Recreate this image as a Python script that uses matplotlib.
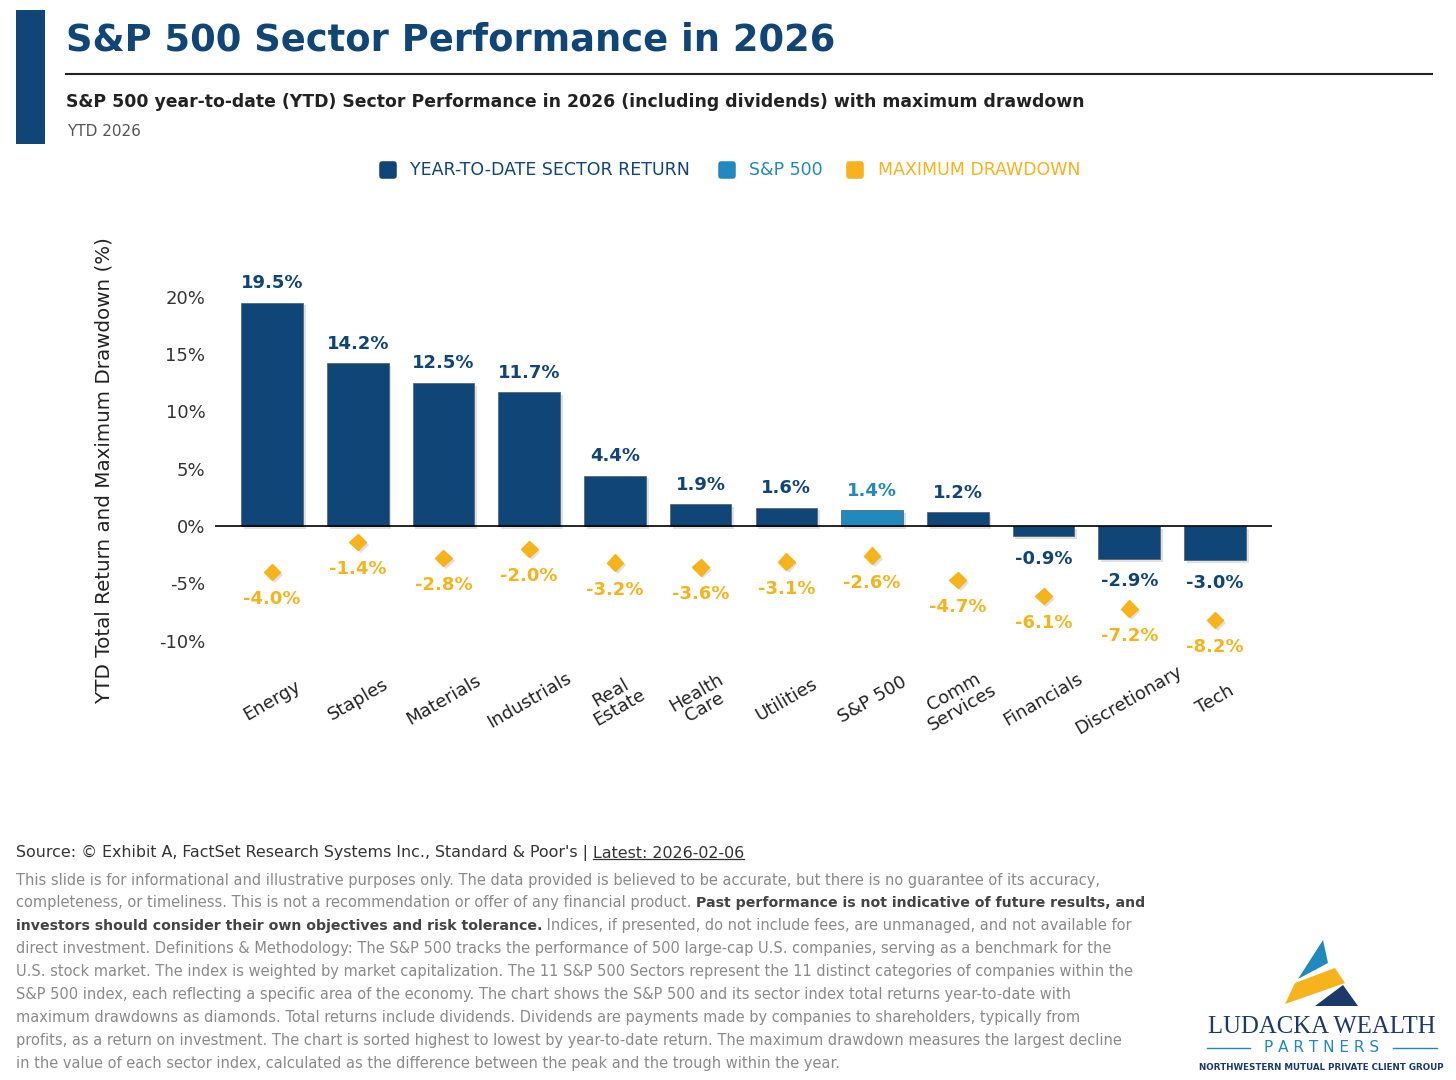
import matplotlib
matplotlib.use("Agg")
import matplotlib.pyplot as plt
import matplotlib.patheffects as pe
from matplotlib.patches import Rectangle, Polygon
from matplotlib.lines import Line2D
from matplotlib.markers import MarkerStyle

W, H = 1456, 1080

# chart data
sectors = ["Energy", "Staples", "Materials", "Industrials", "Real\nEstate", "Health\nCare",
           "Utilities", "S&P 500", "Comm\nServices", "Financials", "Discretionary", "Tech"]
ytd_return = [19.5, 14.2, 12.5, 11.7, 4.4, 1.9, 1.6, 1.4, 1.2, -0.9, -2.9, -3.0]
max_drawdown = [-4.0, -1.4, -2.8, -2.0, -3.2, -3.6, -3.1, -2.6, -4.7, -6.1, -7.2, -8.2]
y_ticks = [-10, -5, 0, 5, 10, 15, 20]
benchmark = "S&P 500"

NAVY = "#0f4577"
SKY = "#2189bd"
GOLD = "#f6b31b"
INK = "#222222"
GREY = "#8a8a8a"
DARKGREY = "#444444"

plt.rcParams["font.family"] = ["DejaVu Sans"]


def fx(x):
    return x / W


def fy(y):
    return 1 - y / H


fig = plt.figure(figsize=(W / 100, H / 100), dpi=100)

# ---- header ----
fig.add_artist(Rectangle((fx(16), fy(144)), fx(45) - fx(16), fy(10) - fy(144),
                         transform=fig.transFigure, color=NAVY, lw=0))
fig.text(fx(66), fy(40), "S&P 500 Sector Performance in 2026", fontsize=26.6,
         fontweight="heavy", color=NAVY, va="center", ha="left")
fig.add_artist(Line2D([fx(66), fx(1432)], [fy(74), fy(74)], transform=fig.transFigure,
                      color=INK, lw=1.5))
fig.text(fx(66), fy(102), "S&P 500 year-to-date (YTD) Sector Performance in 2026 "
         "(including dividends) with maximum drawdown", fontsize=12.4, fontweight="bold",
         color=INK, va="center", ha="left")
fig.text(fx(67), fy(132), "YTD 2026", fontsize=11, color="#555555", va="center", ha="left")

# ---- legend ----
legend_items = [(388, 410, "YEAR-TO-DATE SECTOR RETURN", NAVY),
                (727, 749, "S&P 500", SKY),
                (855, 878, "MAXIMUM DRAWDOWN", GOLD)]
for mx, tx, label, col in legend_items:
    fig.add_artist(Line2D([fx(mx)], [fy(170)], transform=fig.transFigure, ls="none",
                          marker=MarkerStyle("s", joinstyle="round"), ms=8, mew=4,
                          color=col))
    fig.text(fx(tx), fy(170), label, fontsize=12.5, color=col, va="center", ha="left")

# ---- chart ----
ax = fig.add_axes([fx(215), fy(675), fx(1272) - fx(215), fy(251) - fy(675)])
x = list(range(len(sectors)))
bar_colors = [SKY if s == benchmark else NAVY for s in sectors]
shadow = [pe.SimplePatchShadow(offset=(2, -2), shadow_rgbFace="#999999", alpha=0.3),
          pe.Normal()]

bars = ax.bar(x, ytd_return, width=0.72, color=bar_colors, edgecolor="#55677a",
              linewidth=0.6, zorder=3)
for b in bars:
    b.set_path_effects(shadow)

ax.plot(x, max_drawdown, ls="none", marker="D", ms=8.5, color=GOLD, zorder=4,
        path_effects=shadow)

for i, (v, col) in enumerate(zip(ytd_return, bar_colors)):
    off = 14 if v >= 0 else -16
    ax.annotate(f"{v:.1f}%", (i, v), xytext=(0, off), textcoords="offset points",
                ha="center", va="center", fontsize=13, fontweight="heavy", color=col)

for i, d in enumerate(max_drawdown):
    ax.annotate(f"{d:.1f}%", (i, d), xytext=(0, -19.5), textcoords="offset points",
                ha="center", va="center", fontsize=13, fontweight="heavy", color=GOLD)

ax.axhline(0, color="black", lw=1.2, zorder=5)
ax.set_xlim(-0.665, len(sectors) - 1 + 0.665)
ax.set_ylim(-13, 24)
ax.set_yticks(y_ticks)
ax.set_yticklabels([f"{t}%" for t in y_ticks])
ax.set_xticks(x)
ax.set_xticklabels(sectors, rotation=30, ha="center", va="center", linespacing=0.95)
ax.tick_params(axis="y", length=0, pad=7, labelsize=13, labelcolor="#333333")
ax.tick_params(axis="x", length=0, pad=18, labelsize=13, labelcolor=INK)
for sp in ax.spines.values():
    sp.set_visible(False)

fig.text(fx(104), fy(470), "YTD Total Return and Maximum Drawdown (%)", rotation=90,
         fontsize=14.3, color=INK, va="center", ha="center")

# ---- footer ----
src1 = fig.text(fx(16), fy(853), "Source: \u00a9 Exhibit A, FactSet Research Systems Inc., "
                "Standard & Poor's | ", fontsize=11.4, color="#333333", va="center", ha="left")
src2 = ax.annotate("Latest: 2026-02-06", xy=(1, 0), xycoords=src1, va="bottom", ha="left",
                   fontsize=11.4, color="#333333", annotation_clip=False)

disclaimer = [
    [("This slide is for informational and illustrative purposes only. The data provided is "
      "believed to be accurate, but there is no guarantee of its accuracy,", False)],
    [("completeness, or timeliness. This is not a recommendation or offer of any financial "
      "product. ", False), ("Past performance is not indicative of future results, and", True)],
    [("investors should consider their own objectives and risk tolerance.", True),
     (" Indices, if presented, do not include fees, are unmanaged, and not available for", False)],
    [("direct investment. Definitions & Methodology: The S&P 500 tracks the performance of 500 "
      "large-cap U.S. companies, serving as a benchmark for the", False)],
    [("U.S. stock market. The index is weighted by market capitalization. The 11 S&P 500 Sectors "
      "represent the 11 distinct categories of companies within the", False)],
    [("S&P 500 index, each reflecting a specific area of the economy. The chart shows the S&P 500 "
      "and its sector index total returns year-to-date with", False)],
    [("maximum drawdowns as diamonds. Total returns include dividends. Dividends are payments made "
      "by companies to shareholders, typically from", False)],
    [("profits, as a return on investment. The chart is sorted highest to lowest by year-to-date "
      "return. The maximum drawdown measures the largest decline", False)],
    [("in the value of each sector index, calculated as the difference between the peak and the "
      "trough within the year.", False)],
]
line_y = 880
for parts in disclaimer:
    prev = None
    for txt, bold in parts:
        kw = dict(fontsize=10.5 if not bold else 10.2, color=DARKGREY if bold else GREY,
                  fontweight="bold" if bold else "normal")
        if prev is None:
            prev = fig.text(fx(16), fy(line_y), txt, va="center", ha="left", **kw)
        else:
            prev = ax.annotate(txt, xy=(1, 0), xycoords=prev, va="bottom", ha="left",
                               annotation_clip=False, **kw)
    line_y += 22.9

# ---- logo ----
logo_shapes = [
    ([(1323, 940), (1328, 963), (1298, 979)], SKY),
    ([(1285, 1004), (1295, 983), (1335, 968), (1345, 983)], GOLD),
    ([(1315, 1006), (1343, 985), (1358, 1006)], "#1b3a6b"),
]
for pts, col in logo_shapes:
    fig.add_artist(Polygon([(fx(a), fy(b)) for a, b in pts], closed=True,
                           transform=fig.transFigure, color=col, lw=0))
fig.text(fx(1322), fy(1027), "LUDACKA WEALTH", family="Liberation Serif", fontsize=17.8,
         color="#1b3a6b", va="center", ha="center")
fig.text(fx(1322), fy(1048), "P A R T N E R S", fontsize=11, color=SKY,
         va="center", ha="center")
for a, b in [(1207, 1250), (1393, 1437)]:
    fig.add_artist(Line2D([fx(a), fx(b)], [fy(1048), fy(1048)], transform=fig.transFigure,
                          color=SKY, lw=1))
fig.text(fx(1321), fy(1068), "NORTHWESTERN MUTUAL PRIVATE CLIENT GROUP", fontsize=6.3,
         fontweight="bold", color="#1b3a6b", va="center", ha="center")

# underline for the "Latest" date
fig.canvas.draw()
bb = src2.get_window_extent()
p0 = fig.transFigure.inverted().transform((bb.x0, bb.y0 + 2))
p1 = fig.transFigure.inverted().transform((bb.x1, bb.y0 + 2))
fig.add_artist(Line2D([p0[0], p1[0]], [p0[1], p1[1]], transform=fig.transFigure,
                      color="#333333", lw=0.9))

fig.savefig("out.png", dpi=100)
